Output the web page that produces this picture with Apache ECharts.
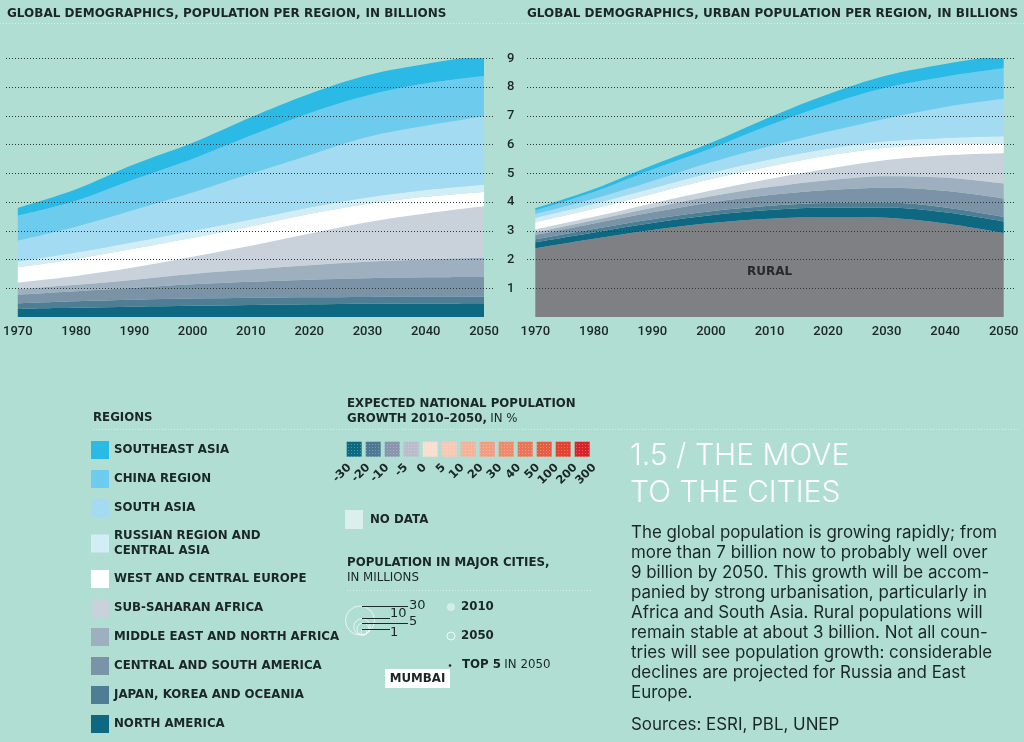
<!DOCTYPE html>
<html><head><meta charset="utf-8">
<script src="https://cdn.jsdelivr.net/npm/echarts@6/dist/echarts.min.js"></script>
<style>html,body{margin:0;padding:0;background:#b0ded3;}#c{width:1024px;height:742px;}</style>
</head><body><div id="c"></div>
<script>
// ---------------- DATA ----------------
const years = ['1970','1980','1990','2000','2010','2020','2030','2040','2050'];

// Population per region, in billions (stack order: bottom -> top)
const popNorthAmerica          = [0.29,0.32,0.36,0.39,0.42,0.44,0.46,0.47,0.48];
const popJapanKoreaOceania     = [0.19,0.23,0.24,0.25,0.25,0.25,0.24,0.24,0.23];
const popCentralSouthAmerica   = [0.30,0.35,0.42,0.50,0.56,0.61,0.65,0.67,0.68];
const popMiddleEastNorthAfrica = [0.19,0.22,0.28,0.36,0.42,0.50,0.57,0.62,0.67];
const popSubSaharanAfrica      = [0.23,0.31,0.43,0.60,0.83,1.10,1.38,1.60,1.79];
const popWestCentralEurope     = [0.53,0.59,0.65,0.66,0.67,0.68,0.63,0.58,0.50];
const popRussiaCentralAsia     = [0.20,0.22,0.23,0.24,0.24,0.23,0.23,0.24,0.25];
const popSouthAsia             = [0.73,0.90,1.12,1.33,1.60,1.82,2.10,2.23,2.38];
const popChinaRegion           = [0.86,0.90,1.06,1.17,1.32,1.46,1.45,1.47,1.40];
const popSoutheastAsia         = [0.27,0.40,0.52,0.56,0.64,0.67,0.70,0.68,0.75];

// Urban population per region (plus rural), in billions
const urbRural                 = [2.39,2.72,3.03,3.27,3.42,3.48,3.45,3.25,2.92];
const urbNorthAmerica          = [0.21,0.22,0.24,0.27,0.30,0.33,0.36,0.39,0.40];
const urbJapanKoreaOceania     = [0.10,0.12,0.13,0.14,0.15,0.16,0.17,0.17,0.16];
const urbCentralSouthAmerica   = [0.15,0.19,0.24,0.30,0.37,0.45,0.52,0.58,0.64];
const urbMiddleEastNorthAfrica = [0.10,0.12,0.16,0.22,0.28,0.34,0.40,0.46,0.52];
const urbSubSaharanAfrica      = [0.10,0.12,0.15,0.20,0.28,0.40,0.56,0.78,1.06];
const urbWestCentralEurope     = [0.25,0.28,0.33,0.40,0.44,0.46,0.43,0.38,0.34];
const urbRussiaCentralAsia     = [0.15,0.17,0.20,0.22,0.24,0.23,0.22,0.22,0.25];
const urbSouthAsia             = [0.13,0.17,0.25,0.36,0.46,0.60,0.80,1.08,1.30];
const urbChinaRegion           = [0.13,0.24,0.40,0.48,0.73,0.94,1.07,1.05,1.06];
const urbSoutheastAsia         = [0.07,0.10,0.15,0.20,0.28,0.36,0.42,0.44,0.48];

const regionNames = ['NORTH AMERICA','JAPAN, KOREA AND OCEANIA','CENTRAL AND SOUTH AMERICA',
  'MIDDLE EAST AND NORTH AFRICA','SUB-SAHARAN AFRICA','WEST AND CENTRAL EUROPE',
  'RUSSIAN REGION AND CENTRAL ASIA','SOUTH ASIA','CHINA REGION','SOUTHEAST ASIA'];
const yTicks = [1,2,3,4,5,6,7,8,9];

// Growth scale (legend)
const growthBins  = ['-30..-20','-20..-10','-10..-5','-5..0','0..5','5..10','10..20','20..30','30..40','40..50','50..100','100..200','200..300'];
const growthTicks = ['-30','-20','-10','-5','0','5','10','20','30','40','50','100','200','300'];

// ---------------- STYLE ----------------
const regionColors = ['#0f6882','#4f7d94','#7a93a7','#9eb0bf','#c9d2da','#ffffff','#d3edf6','#a3dcf2','#6dcbee','#2bbae6'];
const ruralColor = '#7f8083';
const growthColors = ['#0c6a80','#4c7891','#8795ad','#b8bccb','#f8ddd0','#f7c8b3','#f5b299','#f29d81','#ef8a6b','#eb7558','#e75d43','#e2422f','#d8232a'];
const BG = '#b0ded3';
const INK = '#1b2626';
const LAB = 'DejaVu Sans';
const LS = 11.8;

const popData = [popNorthAmerica,popJapanKoreaOceania,popCentralSouthAmerica,popMiddleEastNorthAfrica,popSubSaharanAfrica,popWestCentralEurope,popRussiaCentralAsia,popSouthAsia,popChinaRegion,popSoutheastAsia];
const urbData = [urbNorthAmerica,urbJapanKoreaOceania,urbCentralSouthAmerica,urbMiddleEastNorthAfrica,urbSubSaharanAfrica,urbWestCentralEurope,urbRussiaCentralAsia,urbSouthAsia,urbChinaRegion,urbSoutheastAsia];

function areaSeries(name, data, color, xi, stack) {
  return {
    type: 'line', name, data, stack, xAxisIndex: xi, yAxisIndex: xi,
    color, smooth: 0.35, symbol: 'none', showSymbol: false,
    lineStyle: { width: 0, color }, areaStyle: { color, opacity: 1 },
    emphasis: { disabled: true }, silent: true, z: 2
  };
}

const series = [];
regionNames.forEach((n, i) => series.push(areaSeries(n, popData[i], regionColors[i], 0, 'pop')));
const rural = areaSeries('RURAL', urbRural, ruralColor, 2, 'urb');
rural.markPoint = {
  symbol: 'circle', symbolSize: 0, silent: true,
  label: { show: true, position: 'inside', formatter: 'RURAL', color: '#262a2c', fontFamily: LAB, fontWeight: 'bold', fontSize: 12 },
  data: [{ coord: ['2010', 1.57] }]
};
series.push(rural);
regionNames.forEach((n, i) => series.push(areaSeries(n, urbData[i], regionColors[i], 2, 'urb')));
series.push({
  type: 'bar', xAxisIndex: 4, yAxisIndex: 4, barWidth: 15, silent: true,
  data: growthBins.map((b, i) => ({ value: 1, itemStyle: { color: growthColors[i] } })),
  itemStyle: { decal: { symbol: 'rect', symbolSize: 1, color: 'rgba(255,255,255,0.28)', dashArrayX: [1, 2], dashArrayY: [1, 2] } }
});

const xLabel = { color: INK, fontFamily: 'Roboto', fontSize: 13, fontWeight: 500, margin: 8 };
const dotted = { type: [1, 2], color: '#2c3838', width: 1 };
const richT = { b: { fontFamily: LAB, fontWeight: 'bold', fontSize: 12, color: INK }, r: { fontFamily: LAB, fontSize: 12, color: INK } };
const richG = { b: { fontFamily: LAB, fontWeight: 'bold', fontSize: LS, fill: INK }, r: { fontFamily: LAB, fontSize: LS, fill: INK } };
const fb = 'bold ' + LS + 'px "DejaVu Sans"';
const fr = LS + 'px "DejaVu Sans"';

const option = {
  backgroundColor: BG,
  animation: false,
  title: [
    { left: 7, top: 5, padding: 0, text: '{b|GLOBAL DEMOGRAPHICS, POPULATION PER REGION,} {r|IN BILLIONS}', textStyle: { rich: richT } },
    { left: 527, top: 5, padding: 0, text: '{b|GLOBAL DEMOGRAPHICS, URBAN POPULATION PER REGION,} {r|IN BILLIONS}', textStyle: { rich: richT } }
  ],
  legend: {
    orient: 'vertical', left: 91, top: 441, padding: 0, itemWidth: 18, itemHeight: 18, itemGap: 11,
    icon: 'rect', selectedMode: false, data: regionNames.slice().reverse(),
    itemStyle: { borderWidth: 0 },
    formatter: n => n === 'RUSSIAN REGION AND CENTRAL ASIA' ? 'RUSSIAN REGION AND\nCENTRAL ASIA' : n,
    textStyle: { fontFamily: LAB, fontWeight: 'bold', fontSize: LS, lineHeight: 15.5, color: INK }
  },
  grid: [
    { left: 15.7, top: 58.3, width: 468.3, height: 258.7 },
    { left: 6, top: 58.3, width: 487, height: 230 },
    { left: 535.3, top: 58.3, width: 468.4, height: 258.7 },
    { left: 527, top: 58.3, width: 488, height: 230 },
    { left: 344.7, top: 441.7, width: 247, height: 15 },
    { left: 349.5, top: 441.7, width: 245, height: 15 }
  ],
  xAxis: [
    { gridIndex: 0, type: 'category', data: years, boundaryGap: false, axisLine: { show: false }, axisTick: { show: false }, axisLabel: xLabel, splitLine: { show: false } },
    { gridIndex: 1, type: 'value', show: false, min: 0, max: 1 },
    { gridIndex: 2, type: 'category', data: years, boundaryGap: false, axisLine: { show: false }, axisTick: { show: false }, axisLabel: xLabel, splitLine: { show: false } },
    { gridIndex: 3, type: 'value', show: false, min: 0, max: 1 },
    { gridIndex: 4, type: 'category', data: growthBins, show: false },
    { gridIndex: 5, type: 'value', min: 0, max: 13, interval: 1, axisLine: { show: false }, axisTick: { show: false }, splitLine: { show: false },
      axisLabel: { rotate: 45, margin: 9, color: INK, fontFamily: LAB, fontWeight: 'bold', fontSize: 11.5, formatter: v => growthTicks[v] } }
  ],
  yAxis: [
    { gridIndex: 0, type: 'value', min: 0, max: 9, show: false },
    { gridIndex: 1, type: 'value', min: yTicks[0], max: yTicks[yTicks.length - 1], interval: 1, position: 'right', z: 10,
      axisLine: { show: false }, axisTick: { show: false }, splitLine: { show: true, lineStyle: dotted },
      axisLabel: { margin: 14, color: INK, fontFamily: 'Roboto', fontWeight: 500, fontSize: 13 } },
    { gridIndex: 2, type: 'value', min: 0, max: 9, show: false },
    { gridIndex: 3, type: 'value', min: yTicks[0], max: yTicks[yTicks.length - 1], interval: 1, z: 10,
      axisLine: { show: false }, axisTick: { show: false }, splitLine: { show: true, lineStyle: dotted }, axisLabel: { show: false } },
    { gridIndex: 4, type: 'value', min: 0, max: 1, show: false },
    { gridIndex: 5, type: 'value', min: 0, max: 1, show: false }
  ],
  series,
  graphic: [
    // faint rules
    { type: 'line', shape: { x1: 0, y1: 23.5, x2: 1024, y2: 23.5 }, style: { stroke: 'rgba(255,255,255,0.5)', lineWidth: 1, lineDash: [1, 2] }, silent: true },
    { type: 'line', shape: { x1: 93, y1: 429.5, x2: 1020, y2: 429.5 }, style: { stroke: 'rgba(255,255,255,0.5)', lineWidth: 1, lineDash: [1, 2] }, silent: true },
    { type: 'line', shape: { x1: 347, y1: 590.5, x2: 592, y2: 590.5 }, style: { stroke: 'rgba(255,255,255,0.5)', lineWidth: 1, lineDash: [1, 2] }, silent: true },
    // headings
    { type: 'text', style: { x: 93, y: 418, text: 'REGIONS', verticalAlign: 'middle', fill: INK, font: fb } },
    { type: 'text', style: { x: 347, y: 404, text: 'EXPECTED NATIONAL POPULATION', verticalAlign: 'middle', fill: INK, font: fb } },
    { type: 'text', style: { x: 347, y: 418.5, text: '{b|GROWTH 2010–2050,} {r|IN %}', verticalAlign: 'middle', fill: INK, rich: richG } },
    // no data
    { type: 'rect', shape: { x: 345, y: 510, width: 18, height: 19 }, style: { fill: 'rgba(255,255,255,0.55)' } },
    { type: 'text', style: { x: 370, y: 519.5, text: 'NO DATA', verticalAlign: 'middle', fill: INK, font: fb } },
    { type: 'text', style: { x: 347, y: 562.5, text: 'POPULATION IN MAJOR CITIES,', verticalAlign: 'middle', fill: INK, font: fb } },
    { type: 'text', style: { x: 347, y: 577.5, text: 'IN MILLIONS', verticalAlign: 'middle', fill: INK, font: fr } },
    // city size circles
    { type: 'circle', shape: { cx: 360, cy: 620.5, r: 14.5 }, style: { fill: 'none', stroke: 'rgba(255,255,255,0.7)', lineWidth: 1 } },
    { type: 'circle', shape: { cx: 362, cy: 626.8, r: 8.2 }, style: { fill: 'none', stroke: 'rgba(255,255,255,0.7)', lineWidth: 1 } },
    { type: 'circle', shape: { cx: 363, cy: 629, r: 6 }, style: { fill: 'none', stroke: 'rgba(255,255,255,0.7)', lineWidth: 1 } },
    { type: 'circle', shape: { cx: 364, cy: 632, r: 3 }, style: { fill: 'none', stroke: 'rgba(255,255,255,0.7)', lineWidth: 1 } },
    { type: 'line', shape: { x1: 362, y1: 606.5, x2: 408, y2: 606.5 }, style: { stroke: '#1d2828', lineWidth: 1 } },
    { type: 'line', shape: { x1: 362, y1: 618.5, x2: 390, y2: 618.5 }, style: { stroke: '#1d2828', lineWidth: 1 } },
    { type: 'line', shape: { x1: 362, y1: 623.5, x2: 408, y2: 623.5 }, style: { stroke: '#1d2828', lineWidth: 1 } },
    { type: 'line', shape: { x1: 362, y1: 629.5, x2: 390, y2: 629.5 }, style: { stroke: '#1d2828', lineWidth: 1 } },
    { type: 'text', style: { x: 409, y: 606, text: '30', verticalAlign: 'middle', fill: INK, font: '13px "DejaVu Sans"' } },
    { type: 'text', style: { x: 390, y: 613.5, text: '10', verticalAlign: 'middle', fill: INK, font: '13px "DejaVu Sans"' } },
    { type: 'text', style: { x: 409, y: 622, text: '5', verticalAlign: 'middle', fill: INK, font: '13px "DejaVu Sans"' } },
    { type: 'text', style: { x: 390, y: 633, text: '1', verticalAlign: 'middle', fill: INK, font: '13px "DejaVu Sans"' } },
    // 2010 / 2050 / top 5
    { type: 'circle', shape: { cx: 451, cy: 607, r: 4 }, style: { fill: 'rgba(255,255,255,0.45)' } },
    { type: 'text', style: { x: 461, y: 607, text: '2010', verticalAlign: 'middle', fill: INK, font: fb } },
    { type: 'circle', shape: { cx: 451, cy: 636, r: 4 }, style: { fill: 'none', stroke: 'rgba(255,255,255,0.8)', lineWidth: 1 } },
    { type: 'text', style: { x: 461, y: 636, text: '2050', verticalAlign: 'middle', fill: INK, font: fb } },
    { type: 'circle', shape: { cx: 450, cy: 665.5, r: 1.3 }, style: { fill: '#1d2828' } },
    { type: 'text', style: { x: 462, y: 665, text: '{b|TOP 5} {r|IN 2050}', verticalAlign: 'middle', rich: richG } },
    { type: 'rect', shape: { x: 385, y: 669, width: 65, height: 19 }, style: { fill: '#ffffff' } },
    { type: 'text', style: { x: 417.5, y: 678.5, text: 'MUMBAI', align: 'center', verticalAlign: 'middle', fill: INK, font: fb } },
    // right column
    { type: 'text', style: { x: 630, y: 438, text: '1.5 / THE MOVE\nTO THE CITIES', verticalAlign: 'top', lineHeight: 36.6, fill: '#ffffff', font: '300 30px Inter' } },
    { type: 'text', style: { x: 631, y: 523.3, verticalAlign: 'top', lineHeight: 20, fill: INK, font: '16.9px Inter',
      text: 'The global population is growing rapidly; from\nmore than 7 billion now to probably well over\n9 billion by 2050. This growth will be accom-\npanied by strong urbanisation, particularly in\nAfrica and South Asia. Rural populations will\nremain stable at about 3 billion. Not all coun-\ntries will see population growth: considerable\ndeclines are projected for Russia and East\nEurope.' } },
    { type: 'text', style: { x: 631, y: 715, verticalAlign: 'top', lineHeight: 20, fill: INK, font: '16.9px Inter', text: 'Sources: ESRI, PBL, UNEP' } }
  ]
};

const chart = echarts.init(document.getElementById('c'), null, { renderer: 'canvas' });
chart.setOption(option);
</script>
</body></html>
